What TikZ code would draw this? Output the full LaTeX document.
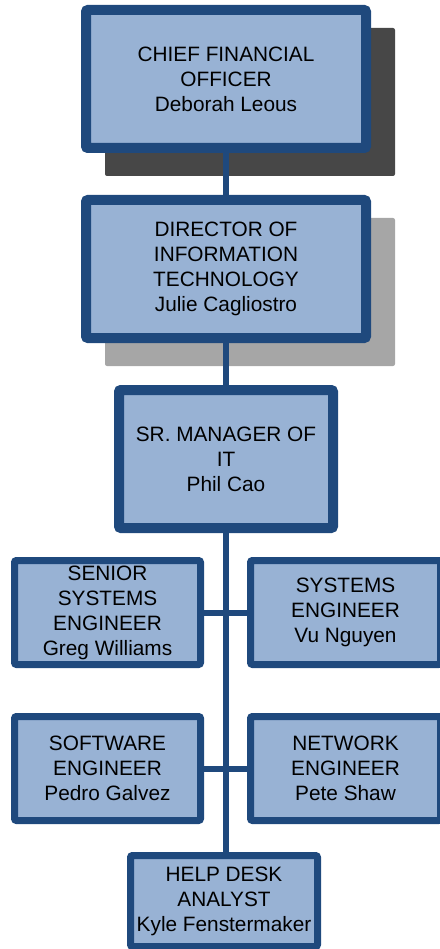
\documentclass[tikz,border=0pt]{standalone}
\usepackage{fontspec}
\setmainfont{Liberation Sans}
\usetikzlibrary{positioning,backgrounds}
\definecolor{boxline}{HTML}{1F497D}
\definecolor{boxfill}{HTML}{98B2D4}
\definecolor{shadowdark}{HTML}{474747}
\definecolor{shadowlight}{HTML}{A6A6A6}

\begin{document}
\begin{tikzpicture}[
    x=1pt, y=1pt,
    box/.style={draw=boxline, fill=boxfill, line width=7pt, rounded corners=2pt, align=center, inner sep=2pt, outer sep=0pt, minimum width=186pt, minimum height=104pt, font=\fontsize{20.8}{25}\selectfont},
    bigbox/.style={box, line width=10pt, minimum width=280pt, minimum height=138pt},
    link/.style={draw=boxline, line width=6pt},
    node distance=52pt and 50pt
  ]
  \useasboundingbox (0,0) rectangle (439,-949);

  \node[bigbox] (cfo) at (226,-79) {CHIEF FINANCIAL\\OFFICER\\Deborah Leous};
  \node[bigbox, below=of cfo] (itdir) {DIRECTOR OF\\INFORMATION\\TECHNOLOGY\\Julie Cagliostro};
  \node[bigbox, below=of itdir, minimum width=214pt] (itmgr) {SR. MANAGER OF\\IT\\Phil Cao};
  \node[box, below=32.5pt of itmgr, xshift=-118.5pt] (seniorsys) {SENIOR\\SYSTEMS\\ENGINEER\\Greg Williams};
  \node[box, right=of seniorsys, minimum width=190pt] (sysengr) {SYSTEMS\\ENGINEER\\Vu Nguyen};
  \node[box, below=of seniorsys] (softengr) {SOFTWARE\\ENGINEER\\Pedro Galvez};
  \node[box, right=of softengr, minimum width=190pt] (netengr) {NETWORK\\ENGINEER\\Pete Shaw};
  \node[box, below=35pt of softengr, xshift=116.5pt, minimum width=187pt, minimum height=91pt] (helpdesk) {HELP DESK\\ANALYST\\Kyle Fenstermaker};

  % shadows and lines go behind the boxes
  \begin{pgfonlayer}{background}
    \fill[shadowdark, rounded corners=2pt] ([shift={(19pt,-18pt)}]cfo.north west) rectangle ([shift={(29pt,-28pt)}]cfo.south east);
    \fill[shadowlight, rounded corners=2pt] ([shift={(19pt,-18pt)}]itdir.north west) rectangle ([shift={(29pt,-28pt)}]itdir.south east);
    \draw[link] (cfo.south) -- (cfo.south |- helpdesk.north);
    \draw[link] (seniorsys.east) -- (sysengr.west);
    \draw[link] (softengr.east) -- (netengr.west);
  \end{pgfonlayer}
\end{tikzpicture}
\end{document}
